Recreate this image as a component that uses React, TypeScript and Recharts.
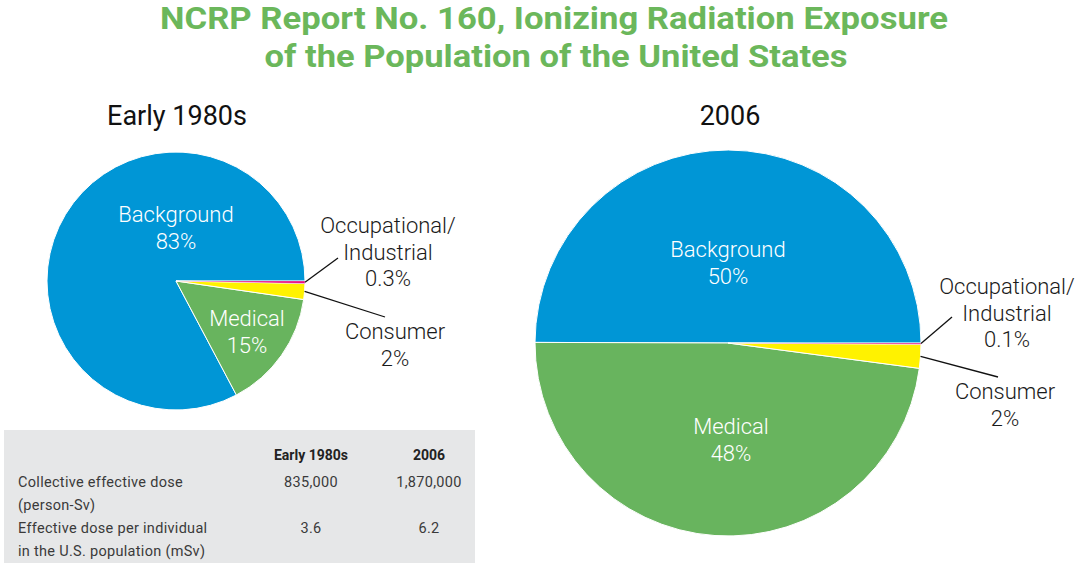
import React from 'react';
import { PieChart, Pie, Cell } from 'recharts';

const SOURCES = ['Background', 'Medical', 'Consumer', 'Occupational/Industrial'];
const SHARE_EARLY_1980S = [83, 15, 2, 0.3];
const SHARE_2006 = [50, 48, 2, 0.1];
const SOURCE_COLORS = ['#0096d6', '#68b45e', '#fff200', '#e5007e'];

const PERIODS = ['Early 1980s', '2006'];
const DOSE_ROWS = [
  ['Collective effective dose', '(person-Sv)'],
  ['Effective dose per individual', 'in the U.S. population (mSv)'],
];
const COLLECTIVE_DOSE = ['835,000', '1,870,000'];
const DOSE_PER_INDIVIDUAL = ['3.6', '6.2'];

const TITLE_LINES = [
  'NCRP Report No. 160, Ionizing Radiation Exposure',
  'of the Population of the United States',
];

const FONT = 'Roboto, "DejaVu Sans", sans-serif';
const GREEN_TITLE = '#6bb75b';

// label placement relative to pie centre, same order as SOURCES
type LabelPos = { dx: number; dy: number; inside?: boolean; end?: [number, number] };

const LABELS_EARLY: LabelPos[] = [
  { dx: 0, dy: -67, inside: true },
  { dx: 71, dy: 37, inside: true },
  { dx: 219, dy: 50, end: [209, 36] },
  { dx: 212, dy: -56, end: [162, -23] },
];

const LABELS_2006: LabelPos[] = [
  { dx: 0, dy: -94, inside: true },
  { dx: 3, dy: 83, inside: true },
  { dx: 277, dy: 48, end: [270, 34] },
  { dx: 279, dy: -57, end: [224, -26] },
];

const toData = (shares: number[]) => SOURCES.map((name, i) => ({ name, value: shares[i] }));

const makeLabel = (layout: LabelPos[]) => (props: any) => {
  const { cx, cy, midAngle, outerRadius, index, value } = props;
  const pos = layout[index];
  const name = SOURCES[index];
  const lines = [...name.split(/(?<=\/)/), `${value}%`];
  const RAD = Math.PI / 180;
  const sx = cx + outerRadius * Math.cos(-midAngle * RAD);
  const sy = cy + outerRadius * Math.sin(-midAngle * RAD);
  const lineH = 26.5;
  return (
    <g key={`lbl-${index}`}>
      {pos.end && (
        <line x1={sx} y1={sy} x2={cx + pos.end[0]} y2={cy + pos.end[1]} stroke="#111" strokeWidth={1.3} />
      )}
      <text
        x={cx + pos.dx}
        y={cy + pos.dy}
        textAnchor="middle"
        dominantBaseline="central"
        fill={pos.inside ? '#fff' : '#1a1a1a'}
        fontFamily={FONT}
        fontWeight={300}
        fontSize={22}
      >
        {lines.map((l, i) => (
          <tspan key={i} x={cx + pos.dx} y={cy + pos.dy + i * lineH}>
            {l}
          </tspan>
        ))}
      </text>
    </g>
  );
};

// thinner outline on the tiny occupational slice so its colour still shows at the rim
const cells = () =>
  SOURCES.map((s, i) => (
    <Cell
      key={s}
      fill={SOURCE_COLORS[i]}
      stroke="#fff"
      strokeWidth={i === SOURCES.length - 1 ? 0.4 : 1}
    />
  ));

export default function App() {
  const colX = [311, 429];
  return (
    <div style={{ position: 'absolute', left: 0, top: 0, width: 1078, height: 568, background: '#fff', fontFamily: FONT }}>
      <PieChart width={1078} height={568} margin={{ top: 0, right: 0, bottom: 0, left: 0 }}>
        <Pie
          data={toData(SHARE_EARLY_1980S)}
          dataKey="value"
          nameKey="name"
          cx={176}
          cy={281}
          outerRadius={129}
          startAngle={0}
          endAngle={360}
          label={makeLabel(LABELS_EARLY)}
          labelLine={false}
          isAnimationActive={false}
        >
          {cells()}
        </Pie>
        <Pie
          data={toData(SHARE_2006)}
          dataKey="value"
          nameKey="name"
          cx={728}
          cy={343}
          outerRadius={193}
          startAngle={0}
          endAngle={360}
          label={makeLabel(LABELS_2006)}
          labelLine={false}
          isAnimationActive={false}
        >
          {cells()}
        </Pie>
      </PieChart>

      <svg width={1078} height={568} style={{ position: 'absolute', left: 0, top: 0, pointerEvents: 'none' }}>
        {/* title */}
        <text x={554} y={18} textAnchor="middle" dominantBaseline="central" fill={GREEN_TITLE}
          fontFamily={FONT} fontWeight={700} fontSize={31} textLength={788} lengthAdjust="spacingAndGlyphs">
          {TITLE_LINES[0]}
        </text>
        <text x={556} y={56} textAnchor="middle" dominantBaseline="central" fill={GREEN_TITLE}
          fontFamily={FONT} fontWeight={700} fontSize={31} textLength={583} lengthAdjust="spacingAndGlyphs">
          {TITLE_LINES[1]}
        </text>

        {/* pie headings */}
        <text x={177} y={116} textAnchor="middle" dominantBaseline="central" fill="#111" fontFamily={FONT} fontWeight={400} fontSize={27}>
          {PERIODS[0]}
        </text>
        <text x={730} y={116} textAnchor="middle" dominantBaseline="central" fill="#111" fontFamily={FONT} fontWeight={400} fontSize={27}>
          {PERIODS[1]}
        </text>

        {/* dose table */}
        <rect x={4} y={430} width={471} height={133} fill="#e6e7e8" />
        {PERIODS.map((p, i) => (
          <text key={p} x={colX[i]} y={455} textAnchor="middle" dominantBaseline="central" fill="#222"
            fontFamily={FONT} fontWeight={700} fontSize={14}>
            {p}
          </text>
        ))}
        {DOSE_ROWS.map((rows, r) =>
          rows.map((t, k) => (
            <text key={`${r}-${k}`} x={18} y={482 + r * 46 + k * 23} dominantBaseline="central" fill="#3a3a3a"
              fontFamily={FONT} fontWeight={400} fontSize={14.5} letterSpacing={0.3}>
              {t}
            </text>
          ))
        )}
        {[COLLECTIVE_DOSE, DOSE_PER_INDIVIDUAL].map((vals, r) =>
          vals.map((v, i) => (
            <text key={`${r}-${i}`} x={colX[i]} y={482 + r * 46} textAnchor="middle" dominantBaseline="central" fill="#3a3a3a"
              fontFamily={FONT} fontWeight={400} fontSize={14.5} letterSpacing={0.3}>
              {v}
            </text>
          ))
        )}
      </svg>
    </div>
  );
}
